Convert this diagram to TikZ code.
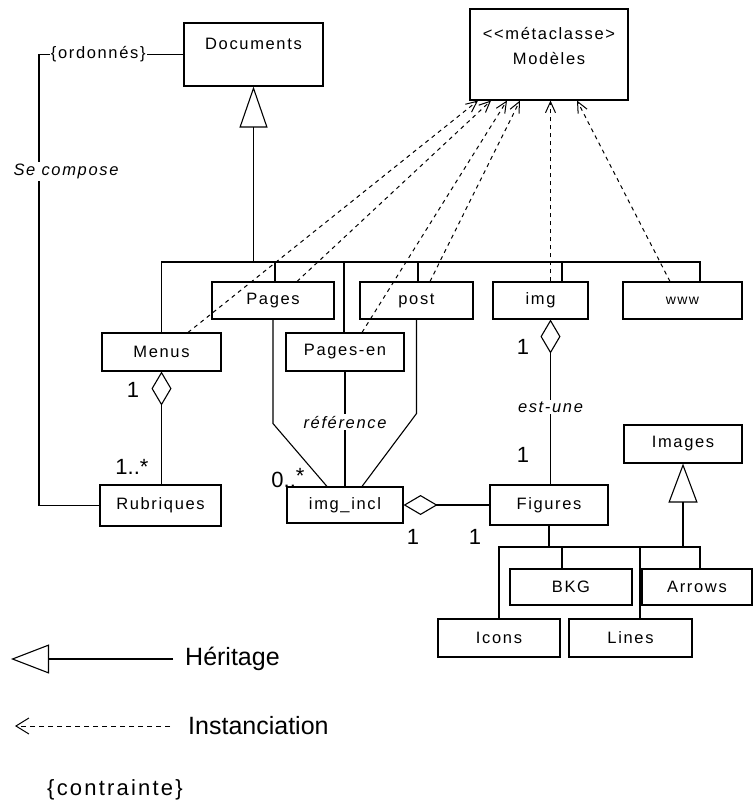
\documentclass[tikz,border=0pt]{standalone}
\usepackage{fontspec}
\setmainfont{Liberation Sans}
\newfontfamily\umlfont[LetterSpace=10]{Liberation Sans}
\usetikzlibrary{arrows.meta, positioning}

\begin{document}
\begin{tikzpicture}[
        x=1pt, y=-1pt,
        every node/.style={font=\umlfont\fontsize{16.5}{19}\selectfont},
        classbox/.style={draw, rectangle, line width=1.1pt, align=center, inner sep=0pt},
        link/.style={line width=1.1pt},
        inherit/.style={link, -{Triangle[open, length=41pt, width=28pt]}},
        instance/.style={line width=1pt, dash pattern=on 4pt off 4pt, -{Straight Barb[length=11pt, width=10pt]}},
        aggreg/.style={link, {Diamond[open, length=34pt, width=20pt]}-},
        role/.style={font=\umlfont\fontsize{16.5}{19}\selectfont\itshape, fill=white, inner sep=2pt},
        constraint/.style={fill=white, inner sep=1pt},
        mult/.style={font=\normalfont\fontsize{22}{24}\selectfont, inner sep=0pt},
        legend/.style={font=\normalfont\fontsize{25}{28}\selectfont, inner sep=0pt}
    ]
        \useasboundingbox (0,0) rectangle (753,803);

        % classes
        \node[classbox, minimum width=139pt, minimum height=63pt] (docs) at (253.5,54.5) {Documents\\[2pt]~};
        \node[classbox, minimum width=158pt, minimum height=91pt] (modeles) at (549,54.5) {<{}<métaclasse>\\[6pt]Modèles\\[-2pt]~};
        \node[classbox, minimum width=119pt, minimum height=38pt] (menus) at (161.5,352) {Menus};
        \node[classbox, minimum width=122pt, minimum height=37pt] (pages) at (273,300.5) {Pages};
        \node[classbox, minimum width=118pt, minimum height=38pt] (pagesen) at (345,352) {Pages-en};
        \node[classbox, minimum width=113pt, minimum height=37pt] (post) at (416.5,300.5) {post};
        \node[classbox, minimum width=95pt, minimum height=37pt] (img) at (540.5,300.5) {img};
        \node[classbox, minimum width=119pt, minimum height=37pt] (www) at (682.5,300.5) {\fontsize{14}{16}\selectfont www};
        \node[classbox, minimum width=121pt, minimum height=41pt] (rubriques) at (160.5,505.5) {Rubriques};
        \node[classbox, minimum width=116pt, minimum height=36pt] (imgincl) at (345,505) {img\_incl};
        \node[classbox, minimum width=118pt, minimum height=40pt] (figures) at (549,505) {Figures};
        \node[classbox, minimum width=118pt, minimum height=38pt] (images) at (683,444) {Images};
        \node[classbox, minimum width=122pt, minimum height=36pt] (bkg) at (571,587) {BKG};
        \node[classbox, minimum width=110pt, minimum height=36pt] (arrows) at (697,587) {Arrows};
        \node[classbox, minimum width=122pt, minimum height=38pt] (icons) at (499,638) {Icons};
        \node[classbox, minimum width=123pt, minimum height=38pt] (lines) at (630.5,638) {Lines};

        % instanciation of the metaclass
        \foreach \src/\sx/\dx in {menus/26.5/-71, pages/24/-58, pagesen/17/-42, post/13.5/-29, img/10/1.5, www/-12.5/28}
            \draw[instance] ([xshift=\sx pt]\src.north) -- ([xshift=\dx pt]modeles.south);

        % heritage from Documents
        \coordinate (docbar) at (253.5,262);
        \draw[inherit] (docbar) -- (docs.south);
        \draw[link] (menus.north) |- ([xshift=17.5pt]www.north |- docbar) -- ([xshift=17.5pt]www.north);
        \foreach \cls/\sx in {pages/2, pagesen/-1, post/1.5, img/21.5}
            \draw[link] ([xshift=\sx pt]\cls.north) -- ([xshift=\sx pt]\cls.north |- docbar);

        % heritage of the figures
        \coordinate (figbar) at (548,547);
        \draw[link] (figures.south) -- (figures.south |- figbar);
        \draw[link] (icons.north) |- ([xshift=3pt]arrows.north |- figbar) -- ([xshift=3pt]arrows.north);
        \draw[link] ([xshift=-9pt]bkg.north) -- ([xshift=-9pt]bkg.north |- figbar);
        \draw[link] ([xshift=9.5pt]lines.north) -- ([xshift=9.5pt]lines.north |- figbar);
        \draw[link, -{Triangle[open, length=39pt, width=29pt]}] (images.south |- figbar) -- (images.south);

        % composition of the documents
        \coordinate (cmpcorner) at (39,57);
        \draw[link] (docs.west) -- node[constraint, pos=0.59] {\{ordonnés\}} (docs.west -| cmpcorner)
            |- node[role, pos=0.13, xshift=27pt] {Se compose} (rubriques.west);

        % aggregations
        \draw[aggreg] (menus.south) -- (menus.south |- rubriques.north);
        \draw[aggreg] ([xshift=10pt]img.south) -- node[role, pos=0.53] {est-une} ([xshift=10pt]img.south |- figures.north);
        \draw[aggreg] (imgincl.east) -- (figures.west);

        % references to img_incl
        \draw[link] (pages.south) -- ++(0,104) -- ([xshift=-18pt]imgincl.north);
        \draw[link] (pagesen.south) -- node[role, pos=0.44] {référence} (imgincl.north);
        \draw[link] (post.south) -- ++(0,94) -- ([xshift=17pt]imgincl.north);

        % multiplicities
        \node[mult] (mmenus) at (133,390) {1};
        \node[mult] (mrubriques) at (132,467) {1..*};
        \node[mult] (mpages) at (288,478) {0..\raisebox{4pt}{*}};
        \node[mult] (mincl) at (413,537) {1};
        \node[mult] (mfigincl) at (475,537) {1};
        \node[mult] (mimg) at (523,347) {1};
        \node[mult] (mfigimg) at (523,455) {1};

        % legend
        \coordinate (heritTip) at (11,659);
        \node[legend, anchor=west] (heritage) at (185,659) {Héritage};
        \draw[link, -{Triangle[open, length=38pt, width=29pt]}] ([xshift=-12pt]heritage.west) -- (heritTip);
        \coordinate (instTip) at (15,726);
        \node[legend, anchor=west] (instanc) at (188,726) {Instanciation};
        \draw[instance, dash pattern=on 5pt off 4pt, -{Straight Barb[length=13pt, width=16pt]}] ([xshift=-18pt]instanc.west) -- (instTip);
        \node[font=\umlfont\fontsize{22}{24}\selectfont] (contrainte) at (115,790) {\{contrainte\}};
    \end{tikzpicture}
\end{document}
